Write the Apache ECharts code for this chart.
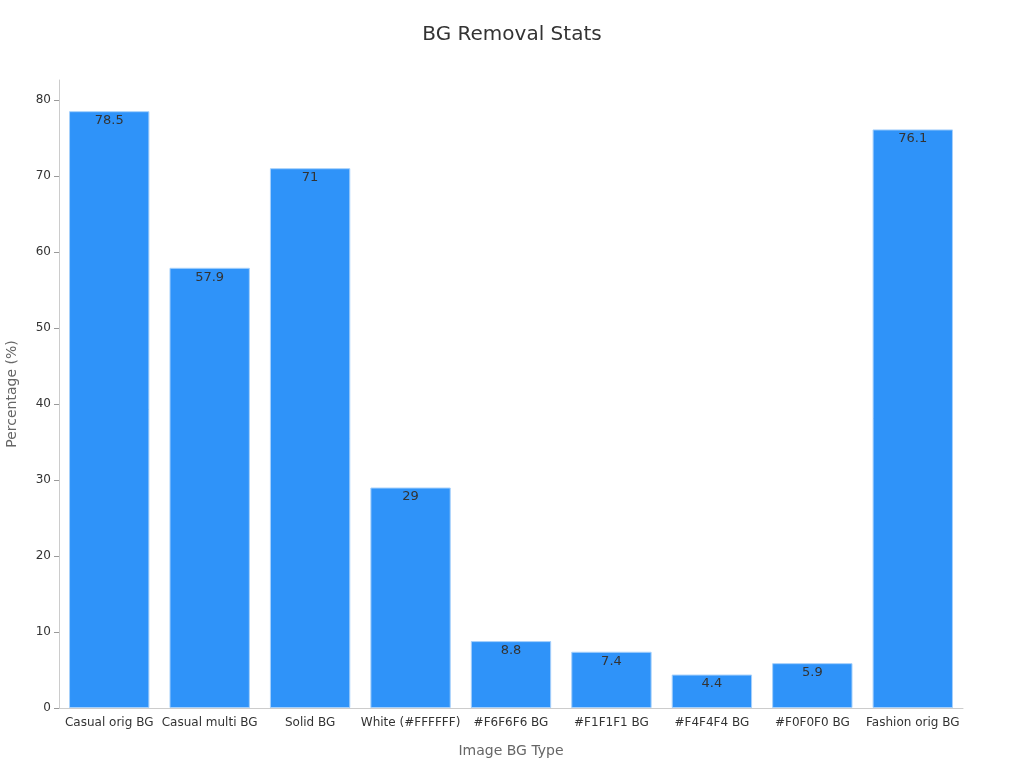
<!DOCTYPE html>
<html>
	<head>
		<meta charset="utf-8">
		<title>BG Removal Stats</title>
	</head>
	<style type="text/css">
		html, body { margin: 0; padding: 0; background: #fff; }
		#graphical { width: 1024px; height: 768px; }
	</style>
	<body>
		<div id="graphical"></div>
		<script src="https://cdn.jsdelivr.net/npm/echarts@6/dist/echarts.min.js" type="text/javascript" charset="utf-8"></script>
		<script type="text/javascript">
			var categories = ['Casual orig BG', 'Casual multi BG', 'Solid BG', 'White (#FFFFFF)', '#F6F6F6 BG', '#F1F1F1 BG', '#F4F4F4 BG', '#F0F0F0 BG', 'Fashion orig BG'];
			var values = [78.5, 57.9, 71, 29, 8.8, 7.4, 4.4, 5.9, 76.1];
			var yTicks = [0, 10, 20, 30, 40, 50, 60, 70, 80];

			var chart = echarts.init(document.getElementById('graphical'));
			var font = 'DejaVu Sans';
			var option = {
				backgroundColor: '#fff',
				title: {
					text: 'BG Removal Stats',
					left: 'center',
					top: 20,
					textStyle: { fontFamily: font, fontSize: 20, fontWeight: 'normal', color: '#333' }
				},
				grid: { left: 59, right: 61, top: 80, bottom: 60, outerBoundsMode: 'none', containLabel: false },
				xAxis: {
					type: 'category',
					data: categories,
					name: 'Image BG Type',
					nameLocation: 'middle',
					nameGap: 36,
					nameTextStyle: { fontFamily: font, fontSize: 14, color: '#666' },
					axisLine: { lineStyle: { color: '#ccc' } },
					axisTick: { alignWithLabel: true, length: 5, lineStyle: { color: '#999' } },
					axisLabel: { fontFamily: font, fontSize: 12, color: '#333', interval: 0, margin: 9 }
				},
				yAxis: {
					type: 'value',
					min: 0,
					max: 82.6,
					interval: 10,
					name: 'Percentage (%)',
					nameLocation: 'middle',
					nameGap: 40,
					nameTextStyle: { fontFamily: font, fontSize: 14, color: '#666' },
					axisLine: { show: true, lineStyle: { color: '#ccc' } },
					axisTick: { show: true, length: 5, lineStyle: { color: '#999' }, customValues: yTicks },
					splitLine: { show: false },
					axisLabel: {
						fontFamily: font, fontSize: 12, color: '#333', margin: 8,
						customValues: yTicks,
						formatter: function(v) { return yTicks.indexOf(v) >= 0 ? v : ''; }
					}
				},
				series: [{
					type: 'bar',
					data: values,
					barCategoryGap: '20%',
					itemStyle: { color: '#2f93f9', borderColor: '#a6d0fb', borderWidth: 1 },
					label: {
						show: true,
						position: 'insideTop',
						distance: 3,
						fontFamily: font,
						fontSize: 13,
						color: '#333'
					}
				}]
			};
			chart.setOption(option);
		</script>
	</body>
</html>
